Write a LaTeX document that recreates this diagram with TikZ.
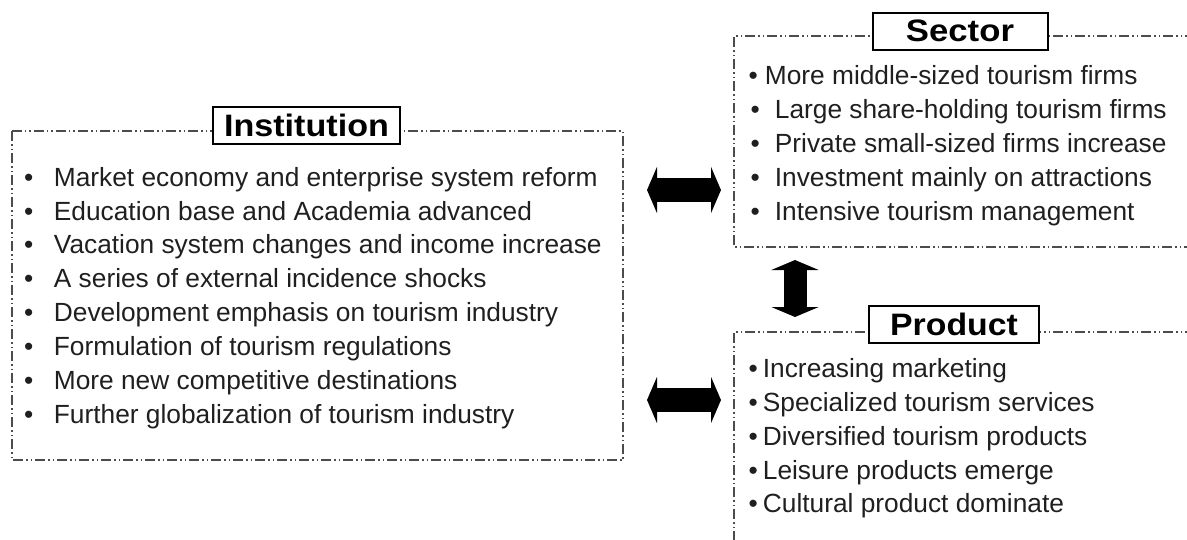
\documentclass[tikz,border=0pt]{standalone}
\usepackage{fontspec}
\setmainfont{Liberation Sans}
\usetikzlibrary{arrows.meta}
\tikzset{
  item/.style={anchor=base west, inner sep=0pt, font=\fontsize{26.3}{30}\selectfont, text=black!88},
  ttl/.style={draw=black, line width=2pt, fill=white, inner sep=0pt, minimum height=37pt, font=\bfseries\fontsize{31}{36}\selectfont},
  dd/.style={draw=black!70, line width=1.1pt, dash pattern=on 10pt off 3pt on 1.5pt off 3pt on 1.5pt off 3pt},
  bigarrow/.style={line width=24pt, {Triangle[length=10pt,width=46pt]}-{Triangle[length=10pt,width=46pt]}}
}
\begin{document}
\begin{tikzpicture}[x=1pt,y=-1pt]
\useasboundingbox (0,0) rectangle (1187,539);
\clip (0,0) rectangle (1187,539);
% dashed frames
\draw[dd] (12,131) rectangle (623,460);
\draw[dd] (1195,36) -- (734,36) -- (734,247) -- (1195,247);
\draw[dd] (1195,332) -- (734,332) -- (734,545);
% titles
\node[ttl, minimum width=187pt] (tinst) at (306.5,125.5) {\scalebox{1.1}[1]{Institution}};
\node[ttl, minimum width=175pt] (tsect) at (960,31) {\scalebox{1.12}[1]{Sector}};
\node[ttl, minimum width=170pt] (tprod) at (954,324.5) {\scalebox{1.09}[1]{Product}};
% institution items
\node[item] (i1) at (24,186) {•\hspace{20.5pt}Market economy and enterprise system reform};
\node[item] (i2) at (24,220) {•\hspace{20.5pt}Education base and Academia advanced};
\node[item] (i3) at (24,253.5) {•\hspace{20.5pt}Vacation system changes and income increase};
\node[item] (i4) at (24,287.5) {•\hspace{20.5pt}A series of external incidence shocks};
\node[item] (i5) at (24,321.5) {•\hspace{20.5pt}Development emphasis on tourism industry};
\node[item] (i6) at (24,355.5) {•\hspace{20.5pt}Formulation of tourism regulations};
\node[item] (i7) at (24,389) {•\hspace{20.5pt}More new competitive destinations};
\node[item] (i8) at (24,423) {•\hspace{20.5pt}Further globalization of tourism industry};
% sector items
\node[item] (s1) at (748.5,84) {•\hspace{7pt}More middle-sized tourism firms};
\node[item] (s2) at (750.5,118.5) {•\hspace{15pt}Large share-holding tourism firms};
\node[item] (s3) at (750.5,152.5) {•\hspace{15pt}Private small-sized firms increase};
\node[item] (s4) at (750.5,186.5) {•\hspace{15pt}Investment mainly on attractions};
\node[item] (s5) at (750.5,220.5) {•\hspace{15pt}Intensive tourism management};
% product items
\node[item] (p1) at (748.5,377) {•\hspace{5pt}Increasing marketing};
\node[item] (p2) at (748.5,411) {•\hspace{5pt}Specialized tourism services};
\node[item] (p3) at (748.5,445) {•\hspace{5pt}Diversified tourism products};
\node[item] (p4) at (748.5,479) {•\hspace{5pt}Leisure products emerge};
\node[item] (p5) at (748.5,512.5) {•\hspace{5pt}Cultural product dominate};
% arrows
\coordinate (a1l) at (647,190);
\coordinate (a1r) at (721,190);
\coordinate (a2l) at (647,400);
\coordinate (a2r) at (721,400);
\coordinate (a3t) at (795,260);
\coordinate (a3b) at (795,317);
\draw[bigarrow] (a1l) -- (a1r);
\draw[bigarrow] (a2l) -- (a2r);
\draw[bigarrow, line width=23pt, {Triangle[length=10pt,width=47pt]}-{Triangle[length=10pt,width=47pt]}] (a3t) -- (a3b);
\end{tikzpicture}
\end{document}
